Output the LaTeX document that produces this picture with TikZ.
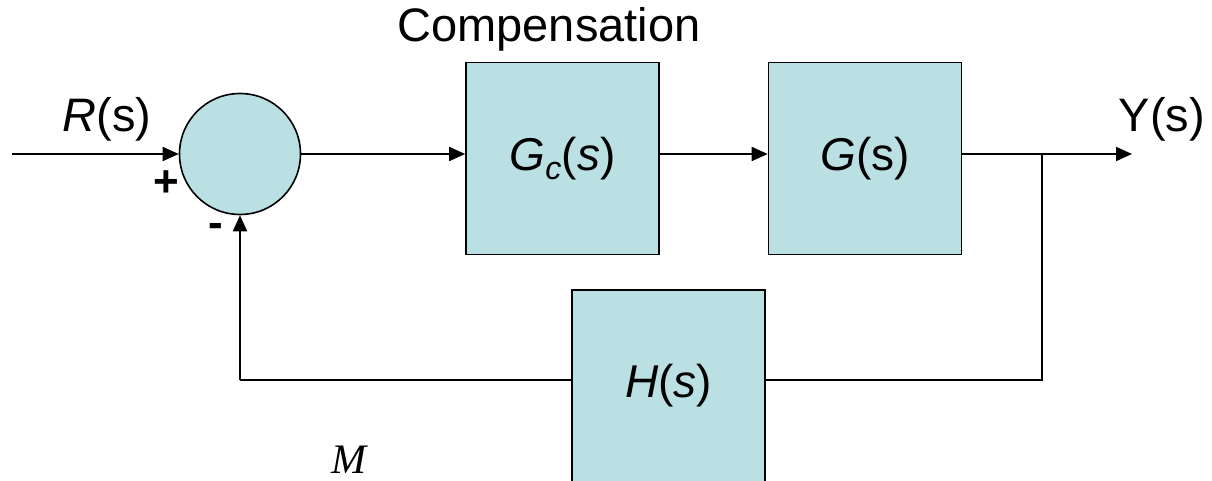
\documentclass[tikz,border=0pt]{standalone}
\usepackage{fontspec}
\setmainfont{Liberation Sans}
\newfontfamily\seriffont{Liberation Serif}
\usetikzlibrary{arrows.meta}
\definecolor{blockfill}{HTML}{BBE0E3}
\begin{document}
\begin{tikzpicture}[x=1pt,y=-1pt,
  blk/.style={draw=black,line width=1.6pt,fill=blockfill,minimum width=193pt,minimum height=192pt,inner sep=0pt,font=\fontsize{46}{50}\selectfont},
  sumnode/.style={circle,draw=black,line width=1.6pt,fill=blockfill,minimum size=121pt,inner sep=0pt},
  wire/.style={line width=1.8pt},
  arr/.style={wire,-{Triangle[length=16pt,width=14pt]}},
  lbl/.style={font=\fontsize{47}{50}\selectfont,inner sep=0pt},
  sign/.style={font=\bfseries\fontsize{44}{46}\selectfont,inner sep=0pt}]
\useasboundingbox (0,0) rectangle (1212,481);
% blocks
\node[sumnode] (sum) at (240,154) {};
\node[blk] (gc) at (562.5,158.5) {\textit{G}\textsubscript{\textit{c}}(\textit{s})};
\node[blk] (g) at (865,158.5) {\textit{G}(s)};
\node[blk] (h) at (668.5,386) {\textit{H}(\textit{s})};
% coordinates
\coordinate (in) at (12,154);
\coordinate (out) at (1132,154);
\coordinate (br) at (1042,154);
\coordinate (brd) at (1042,380);
\coordinate (fbl) at (240,380);
% connectors
\draw[arr] (in) -- (sum.west);
\draw[arr] (sum.east) -- (gc.west |- sum.east);
\draw[arr] (gc.east |- sum.east) -- (g.west |- sum.east);
\draw[arr] (g.east |- out) -- (out);
\draw[wire] (br) -- (brd) -- (h.east |- brd);
\draw[wire] (h.west |- fbl) -- (fbl);
\draw[arr] (fbl) -- (sum.south);
% labels
\node[lbl] (comp) at (549,29) {Compensation};
\node[lbl] (rs) at (107,119) {\textit{R}(s)};
\node[lbl] (ys) at (1162,119) {Y(s)};
\node[sign] (plus) at (166,184) {+};
\node[sign] (minus) at (216,230) {-};
\node[inner sep=0pt,font=\seriffont\itshape\fontsize{42}{44}\selectfont] (m) at (349,460) {M};
\end{tikzpicture}
\end{document}
